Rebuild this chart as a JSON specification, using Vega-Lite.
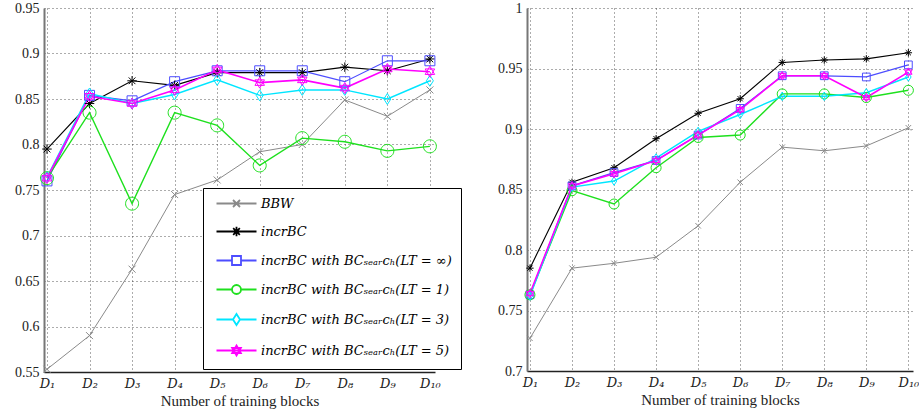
{
  "$schema": "https://vega.github.io/schema/vega-lite/v6.json",
  "background": "white",
  "padding": {"left": 14, "top": 1, "right": 0, "bottom": 2},
  "spacing": 35,
  "datasets": {
    "left": [
      {"s": "BBW", "b": 1, "v": 0.553}, {"s": "BBW", "b": 2, "v": 0.590}, {"s": "BBW", "b": 3, "v": 0.663}, {"s": "BBW", "b": 4, "v": 0.745}, {"s": "BBW", "b": 5, "v": 0.761},
      {"s": "BBW", "b": 6, "v": 0.792}, {"s": "BBW", "b": 7, "v": 0.800}, {"s": "BBW", "b": 8, "v": 0.849}, {"s": "BBW", "b": 9, "v": 0.831}, {"s": "BBW", "b": 10, "v": 0.860},
      {"s": "incrBC", "b": 1, "v": 0.795}, {"s": "incrBC", "b": 2, "v": 0.845}, {"s": "incrBC", "b": 3, "v": 0.870}, {"s": "incrBC", "b": 4, "v": 0.865}, {"s": "incrBC", "b": 5, "v": 0.879},
      {"s": "incrBC", "b": 6, "v": 0.879}, {"s": "incrBC", "b": 7, "v": 0.879}, {"s": "incrBC", "b": 8, "v": 0.885}, {"s": "incrBC", "b": 9, "v": 0.881}, {"s": "incrBC", "b": 10, "v": 0.894},
      {"s": "inf", "b": 1, "v": 0.760}, {"s": "inf", "b": 2, "v": 0.854}, {"s": "inf", "b": 3, "v": 0.848}, {"s": "inf", "b": 4, "v": 0.869}, {"s": "inf", "b": 5, "v": 0.881},
      {"s": "inf", "b": 6, "v": 0.881}, {"s": "inf", "b": 7, "v": 0.881}, {"s": "inf", "b": 8, "v": 0.869}, {"s": "inf", "b": 9, "v": 0.892}, {"s": "inf", "b": 10, "v": 0.892},
      {"s": "1", "b": 1, "v": 0.763}, {"s": "1", "b": 2, "v": 0.835}, {"s": "1", "b": 3, "v": 0.735}, {"s": "1", "b": 4, "v": 0.835}, {"s": "1", "b": 5, "v": 0.821},
      {"s": "1", "b": 6, "v": 0.777}, {"s": "1", "b": 7, "v": 0.807}, {"s": "1", "b": 8, "v": 0.803}, {"s": "1", "b": 9, "v": 0.793}, {"s": "1", "b": 10, "v": 0.798},
      {"s": "3", "b": 1, "v": 0.764}, {"s": "3", "b": 2, "v": 0.856}, {"s": "3", "b": 3, "v": 0.845}, {"s": "3", "b": 4, "v": 0.855}, {"s": "3", "b": 5, "v": 0.871},
      {"s": "3", "b": 6, "v": 0.854}, {"s": "3", "b": 7, "v": 0.860}, {"s": "3", "b": 8, "v": 0.860}, {"s": "3", "b": 9, "v": 0.850}, {"s": "3", "b": 10, "v": 0.870},
      {"s": "5", "b": 1, "v": 0.763}, {"s": "5", "b": 2, "v": 0.853}, {"s": "5", "b": 3, "v": 0.845}, {"s": "5", "b": 4, "v": 0.860}, {"s": "5", "b": 5, "v": 0.882},
      {"s": "5", "b": 6, "v": 0.868}, {"s": "5", "b": 7, "v": 0.871}, {"s": "5", "b": 8, "v": 0.862}, {"s": "5", "b": 9, "v": 0.883}, {"s": "5", "b": 10, "v": 0.880}
    ],
    "right": [
      {"s": "BBW", "b": 1, "v": 0.727}, {"s": "BBW", "b": 2, "v": 0.785}, {"s": "BBW", "b": 3, "v": 0.789}, {"s": "BBW", "b": 4, "v": 0.794}, {"s": "BBW", "b": 5, "v": 0.820},
      {"s": "BBW", "b": 6, "v": 0.856}, {"s": "BBW", "b": 7, "v": 0.885}, {"s": "BBW", "b": 8, "v": 0.882}, {"s": "BBW", "b": 9, "v": 0.886}, {"s": "BBW", "b": 10, "v": 0.901},
      {"s": "incrBC", "b": 1, "v": 0.785}, {"s": "incrBC", "b": 2, "v": 0.856}, {"s": "incrBC", "b": 3, "v": 0.868}, {"s": "incrBC", "b": 4, "v": 0.892}, {"s": "incrBC", "b": 5, "v": 0.913},
      {"s": "incrBC", "b": 6, "v": 0.925}, {"s": "incrBC", "b": 7, "v": 0.955}, {"s": "incrBC", "b": 8, "v": 0.957}, {"s": "incrBC", "b": 9, "v": 0.958}, {"s": "incrBC", "b": 10, "v": 0.963},
      {"s": "inf", "b": 1, "v": 0.763}, {"s": "inf", "b": 2, "v": 0.853}, {"s": "inf", "b": 3, "v": 0.864}, {"s": "inf", "b": 4, "v": 0.874}, {"s": "inf", "b": 5, "v": 0.895},
      {"s": "inf", "b": 6, "v": 0.917}, {"s": "inf", "b": 7, "v": 0.944}, {"s": "inf", "b": 8, "v": 0.944}, {"s": "inf", "b": 9, "v": 0.943}, {"s": "inf", "b": 10, "v": 0.953},
      {"s": "1", "b": 1, "v": 0.763}, {"s": "1", "b": 2, "v": 0.849}, {"s": "1", "b": 3, "v": 0.838}, {"s": "1", "b": 4, "v": 0.868}, {"s": "1", "b": 5, "v": 0.893},
      {"s": "1", "b": 6, "v": 0.895}, {"s": "1", "b": 7, "v": 0.929}, {"s": "1", "b": 8, "v": 0.929}, {"s": "1", "b": 9, "v": 0.926}, {"s": "1", "b": 10, "v": 0.932},
      {"s": "3", "b": 1, "v": 0.762}, {"s": "3", "b": 2, "v": 0.852}, {"s": "3", "b": 3, "v": 0.857}, {"s": "3", "b": 4, "v": 0.876}, {"s": "3", "b": 5, "v": 0.898},
      {"s": "3", "b": 6, "v": 0.912}, {"s": "3", "b": 7, "v": 0.927}, {"s": "3", "b": 8, "v": 0.927}, {"s": "3", "b": 9, "v": 0.930}, {"s": "3", "b": 10, "v": 0.943},
      {"s": "5", "b": 1, "v": 0.764}, {"s": "5", "b": 2, "v": 0.853}, {"s": "5", "b": 3, "v": 0.863}, {"s": "5", "b": 4, "v": 0.874}, {"s": "5", "b": 5, "v": 0.895},
      {"s": "5", "b": 6, "v": 0.916}, {"s": "5", "b": 7, "v": 0.944}, {"s": "5", "b": 8, "v": 0.944}, {"s": "5", "b": 9, "v": 0.926}, {"s": "5", "b": 10, "v": 0.947}
    ]
  },
  "resolve": {"scale": {"color": "independent", "shape": "independent", "strokeWidth": "independent"}},
  "hconcat": [
    {
      "width": 391,
      "height": 364,
      "data": {"name": "left"},
      "resolve": {"scale": {"color": "independent", "shape": "independent"}},
      "encoding": {
        "x": {"field": "b", "type": "quantitative", "scale": {"domain": [0.93, 10.12], "nice": false, "zero": false},
              "axis": {"values": [1, 2, 3, 4, 5, 6, 7, 8, 9, 10], "title": "Number of training blocks",
                       "labelExpr": "'D' + ['','₁','₂','₃','₄','₅','₆','₇','₈','₉','₁₀'][datum.value]"}},
        "y": {"field": "v", "type": "quantitative", "scale": {"domain": [0.55, 0.95], "nice": false, "zero": false},
              "axis": {"values": [0.55, 0.6, 0.65, 0.7, 0.75, 0.8, 0.85, 0.9, 0.95], "format": "~g", "title": null}}
      },
      "layer": [
        {"mark": {"type": "line"},
         "encoding": {
           "color": {"field": "s", "type": "nominal", "legend": null,
                     "scale": {"domain": ["BBW", "incrBC", "inf", "1", "3", "5"], "range": ["#8a8a8a", "#000000", "#4d4dff", "#1ee01e", "#00e6ff", "#ff00ff"]}},
           "strokeWidth": {"field": "s", "type": "ordinal", "scale": {"domain": ["BBW", "incrBC", "inf", "1", "3", "5"], "range": [1, 1.6, 1, 1, 1, 1]}, "legend": null}}},
        {"mark": {"type": "point", "filled": false, "opacity": 1, "size": 100, "strokeWidth": 1},
         "encoding": {
           "color": {"field": "s", "type": "nominal", "legend": null,
                     "scale": {"domain": ["BBW", "incrBC", "inf", "1", "3", "5"], "range": ["#8a8a8a", "#000000", "#4d4dff", "#1ee01e", "#00e6ff", "#ff00ff"]}},
           "shape": {"field": "s", "type": "nominal", "legend": null,
                     "scale": {"domain": ["BBW", "incrBC", "inf", "1", "3", "5"],
                               "range": ["M-0.7,-0.7L0.7,0.7M-0.7,0.7L0.7,-0.7", "M0,-0.95V0.95M-0.95,0H0.95M-0.67,-0.67L0.67,0.67M-0.67,0.67L0.67,-0.67", "M-1,-1H1V1H-1Z", "M-1.3,0A1.3,1.3,0,1,0,1.3,0A1.3,1.3,0,1,0,-1.3,0Z", "M0,-1.1L0.7,0L0,1.1L-0.7,0Z", "M0,-1.1L0.95,0.55H-0.95ZM0,1.1L0.95,-0.55H-0.95Z"]}}}},
        {"transform": [{"filter": "datum.b > 100"}],
         "mark": {"type": "point", "filled": false, "opacity": 1, "size": 100, "strokeWidth": 1.8},
         "encoding": {
           "color": {"field": "s", "type": "nominal",
                     "scale": {"domain": ["BBW", "incrBC", "inf", "1", "3", "5"], "range": ["#8a8a8a", "#000000", "#4d4dff", "#1ee01e", "#00e6ff", "#ff00ff"]},
                     "legend": {
                       "orient": "none", "legendX": 159, "legendY": 180, "title": null,
                       "padding": 9, "strokeColor": "#000000", "fillColor": "#ffffff",
                       "labelFont": "DejaVu Serif", "labelFontSize": 13, "labelFontStyle": "italic", "labelColor": "#000000", "labelLimit": 400,
                       "symbolSize": 100, "symbolOffset": 18, "labelOffset": 18, "rowPadding": 12, "symbolStrokeWidth": 1.8, "symbolOpacity": 1,
                       "labelExpr": "datum.value == 'BBW' || datum.value == 'incrBC' ? datum.value : 'incrBC with BCₛₑₐᵣcₕ(LT = ' + (datum.value == 'inf' ? '∞' : datum.value) + ')'",
                       "encode": {"legend": {"update": {"strokeWidth": {"value": 1.5}}}}
                     }},
           "shape": {"field": "s", "type": "nominal",
                     "scale": {"domain": ["BBW", "incrBC", "inf", "1", "3", "5"],
                               "range": ["M-4,0H4M-0.7,-0.7L0.7,0.7M-0.7,0.7L0.7,-0.7", "M-4,0H4M0,-0.95V0.95M-0.67,-0.67L0.67,0.67M-0.67,0.67L0.67,-0.67", "M-4,0H-0.9M0.9,0H4M-0.9,-0.9H0.9V0.9H-0.9Z", "M-4,0H-0.9M0.9,0H4M-0.9,0A0.9,0.9,0,1,0,0.9,0A0.9,0.9,0,1,0,-0.9,0Z", "M-4,0H-0.7M0.7,0H4M0,-1.1L0.7,0L0,1.1L-0.7,0Z", "M-4,0H4M0,-1L0.87,0.5H-0.87ZM0,1L0.87,-0.5H-0.87Z"]},
                     "legend": {
                       "orient": "none", "legendX": 159, "legendY": 180, "title": null,
                       "padding": 9, "strokeColor": "#000000", "fillColor": "#ffffff",
                       "labelFont": "DejaVu Serif", "labelFontSize": 13, "labelFontStyle": "italic", "labelColor": "#000000", "labelLimit": 400,
                       "symbolSize": 100, "symbolOffset": 18, "labelOffset": 18, "rowPadding": 12, "symbolStrokeWidth": 1.8, "symbolOpacity": 1,
                       "labelExpr": "datum.value == 'BBW' || datum.value == 'incrBC' ? datum.value : 'incrBC with BCₛₑₐᵣcₕ(LT = ' + (datum.value == 'inf' ? '∞' : datum.value) + ')'",
                       "encode": {"legend": {"update": {"strokeWidth": {"value": 1.5}}}}
                     }}}}
      ]
    },
    {
      "width": 386,
      "height": 363,
      "data": {"name": "right"},
      "encoding": {
        "x": {"field": "b", "type": "quantitative", "scale": {"domain": [0.93, 10.11], "nice": false, "zero": false},
              "axis": {"values": [1, 2, 3, 4, 5, 6, 7, 8, 9, 10], "title": "Number of training blocks",
                       "labelExpr": "'D' + ['','₁','₂','₃','₄','₅','₆','₇','₈','₉','₁₀'][datum.value]"}},
        "y": {"field": "v", "type": "quantitative", "scale": {"domain": [0.7, 1], "nice": false, "zero": false},
              "axis": {"values": [0.7, 0.75, 0.8, 0.85, 0.9, 0.95, 1], "format": "~g", "title": null}},
        "color": {"field": "s", "type": "nominal",
                  "scale": {"domain": ["BBW", "incrBC", "inf", "1", "3", "5"], "range": ["#8a8a8a", "#000000", "#4d4dff", "#1ee01e", "#00e6ff", "#ff00ff"]},
                  "legend": null}
      },
      "layer": [
        {"mark": {"type": "line"},
         "encoding": {"strokeWidth": {"field": "s", "type": "ordinal", "scale": {"domain": ["BBW", "incrBC", "inf", "1", "3", "5"], "range": [1, 1.6, 1, 1, 1, 1]}, "legend": null}}},
        {"mark": {"type": "point", "filled": false, "opacity": 1, "size": 60, "strokeWidth": 1},
         "encoding": {"shape": {"field": "s", "type": "nominal", "legend": null,
                                "scale": {"domain": ["BBW", "incrBC", "inf", "1", "3", "5"],
                                          "range": ["M-0.7,-0.7L0.7,0.7M-0.7,0.7L0.7,-0.7", "M0,-0.95V0.95M-0.95,0H0.95M-0.67,-0.67L0.67,0.67M-0.67,0.67L0.67,-0.67", "M-1,-1H1V1H-1Z", "M-1.3,0A1.3,1.3,0,1,0,1.3,0A1.3,1.3,0,1,0,-1.3,0Z", "M0,-1.1L0.7,0L0,1.1L-0.7,0Z", "M0,-1.1L0.95,0.55H-0.95ZM0,1.1L0.95,-0.55H-0.95Z"]}}}}
      ]
    }
  ],
  "config": {
    "view": {"stroke": null},
    "font": "Liberation Serif",
    "axis": {"grid": true, "gridDash": [1, 3], "gridColor": "#222222", "gridOpacity": 0.75, "gridWidth": 1, "ticks": false,
             "labelFont": "Liberation Serif", "titleFont": "Liberation Serif", "labelColor": "#222222", "titleColor": "#222222", "titleFontWeight": "normal"},
    "axisY": {"domainColor": "#777777", "domainWidth": 2, "labelFontSize": 14, "labelPadding": 5},
    "axisX": {"domainColor": "#222222", "domainWidth": 1.5, "labelFont": "DejaVu Serif", "labelFontSize": 13, "labelFontStyle": "italic", "labelPadding": 5,
              "titleFontSize": 15, "titlePadding": 3, "labelFlush": false, "labelOverlap": false}
  }
}
